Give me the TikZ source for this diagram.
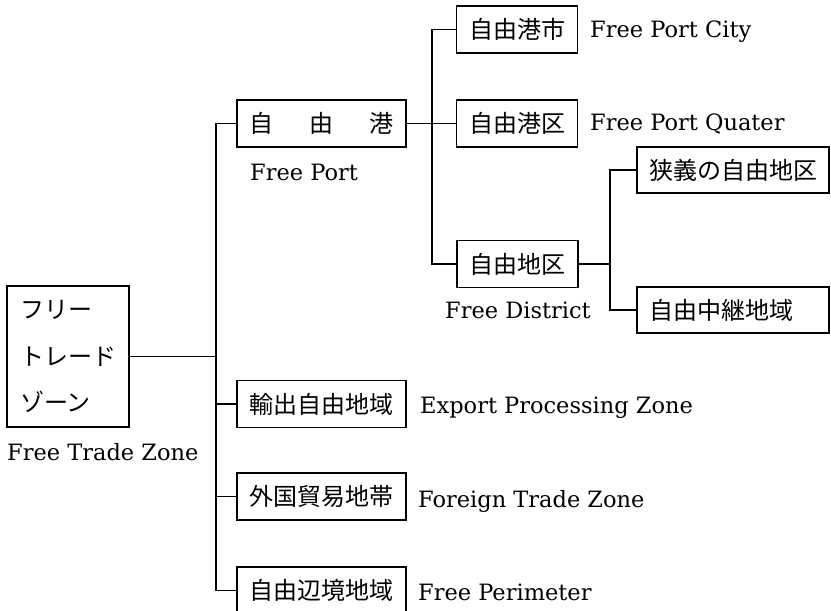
\documentclass[tikz,border=0pt]{standalone}
\usepackage{fontspec}
\newfontfamily\cjkfont{Noto Sans CJK JP}
\newfontfamily\lblfont{DejaVu Serif}
\begin{document}
\begin{tikzpicture}[x=1pt,y=-1pt]
\tikzset{
  box/.style={draw, line width=1.2pt, minimum height=47pt, inner sep=0pt, font=\cjkfont\fontsize{24}{46.5}\selectfont},
  boxfour/.style={box, minimum width=121pt},
  boxsix/.style={box, minimum width=169pt},
  boxseven/.style={box, minimum width=192pt, minimum height=46pt},
  lbl/.style={font=\lblfont\fontsize{22.5}{27}\selectfont, inner sep=0pt, anchor=base west},
  conn/.style={line width=1.2pt}
}
\useasboundingbox (0,0) rectangle (831,611);
% nodes
\node[box, minimum width=122pt, minimum height=141pt, align=left] (ftz) at (68,356.5) {フリー\\トレード\\ゾーン};
\node[boxsix] (port) at (321.5,123.5) {\makebox[144pt]{自\hfill 由\hfill 港}};
\node[boxfour] (city) at (517,29.5) {自由港市};
\node[boxfour] (quarter) at (517,123.5) {自由港区};
\node[boxfour] (district) at (517.5,264) {自由地区};
\node[boxseven] (narrow) at (733,170) {\makebox[168pt][l]{狭義の自由地区}};
\node[boxseven] (relay) at (733,310) {\makebox[168pt][l]{自由中継地域}};
\node[boxsix] (export) at (321.5,404) {輸出自由地域};
\node[boxsix] (foreign) at (321.5,496.5) {外国貿易地帯};
\node[boxsix] (perimeter) at (321.5,590.5) {自由辺境地域};
% labels
\node[lbl] (lftz) at (7,460) {Free Trade Zone};
\node[lbl] (lport) at (250,180) {Free Port};
\node[lbl] (lcity) at (590,37) {Free Port City};
\node[lbl] (lquarter) at (590,130) {Free Port Quater};
\node[lbl] (ldistrict) at (445,318) {Free District};
\node[lbl] (lexport) at (420,413) {Export Processing Zone};
\node[lbl] (lforeign) at (418,507) {Foreign Trade Zone};
\node[lbl] (lperimeter) at (418,600) {Free Perimeter};
% trunk coordinates
\coordinate (t1) at (216,0);
\coordinate (t2) at (432,0);
\coordinate (t3) at (610,0);
% connectors
\draw[conn] (port.west) -| (t1 |- perimeter.west) -- (perimeter.west);
\draw[conn] (ftz.east) -- (t1 |- ftz.east);
\draw[conn] (export.west) -- (t1 |- export.west);
\draw[conn] (foreign.west) -- (t1 |- foreign.west);
\draw[conn] (city.west) -| (t2 |- district.west) -- (district.west);
\draw[conn] (port.east) -- (quarter.west);
\draw[conn] (narrow.west) -| (t3 |- relay.west) -- (relay.west);
\draw[conn] (district.east) -- (t3 |- district.east);
\end{tikzpicture}
\end{document}
